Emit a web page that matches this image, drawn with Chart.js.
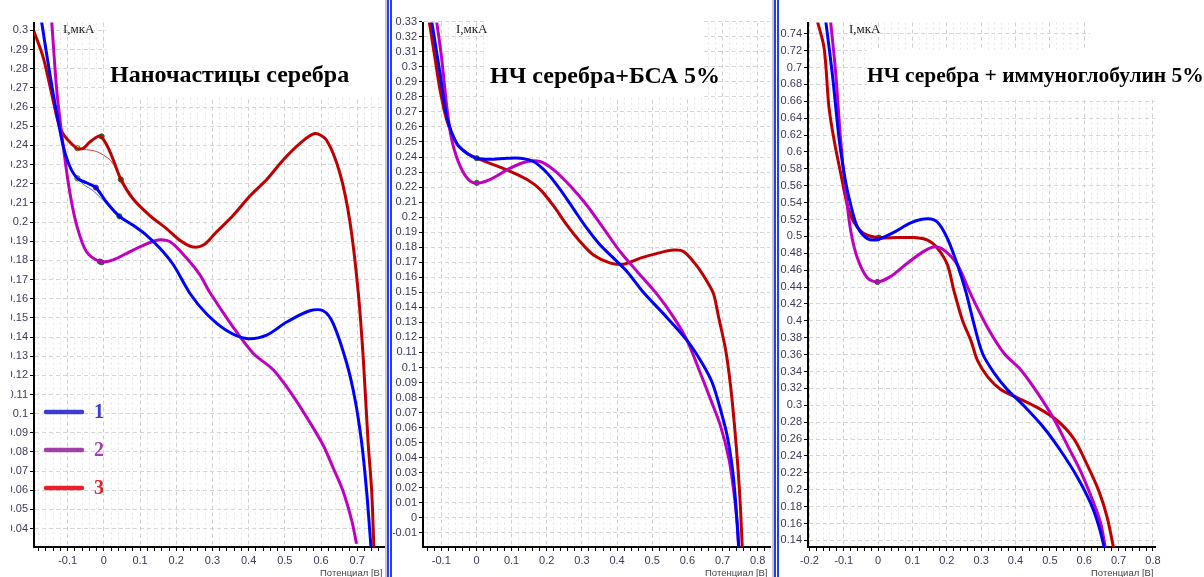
<!DOCTYPE html>
<html>
<head>
<meta charset="utf-8">
<script src="https://cdn.jsdelivr.net/npm/chart.js@4.4.1/dist/chart.umd.min.js"></script>
<style>
  body { margin: 0; background: #fff; width: 1204px; height: 577px; overflow: hidden; position: relative; }
  canvas { position: absolute; }
  .edge { position: absolute; top: 0; height: 577px; }
</style>
</head>
<body>
<canvas id="c1" width="375" height="563" style="left:11px;top:14px"></canvas>
<canvas id="c2" width="379" height="563" style="left:393px;top:14px"></canvas>
<canvas id="c3" width="426" height="563" style="left:778px;top:14px"></canvas>
<div class="edge" style="left:385px;width:2px;background:#c8c8c8"></div>
<div class="edge" style="left:387px;width:2px;background:#1f3fff"></div>
<div class="edge" style="left:390px;width:2px;background:#1f3fff"></div>
<div class="edge" style="left:772px;width:2px;background:#c8c8c8"></div>
<div class="edge" style="left:774px;width:2px;background:#1f3fff"></div>
<div class="edge" style="left:777px;width:2px;background:#1f3fff"></div>
<script>
const seriesNames = ['1', '2', '3'];
const seriesColors = ['#0000ff', '#c000c0', '#c00000'];
const legendColors = ['#3c3cd0', '#a040a8', '#e8202a'];

// Panel 1: Наночастицы серебра
const p1BlueX = [-0.172, -0.149, -0.130, -0.112, -0.094, -0.073, -0.048, -0.022, 0.008, 0.043, 0.081, 0.118, 0.155, 0.192, 0.238, 0.284, 0.339, 0.394, 0.450, 0.505, 0.569, 0.606, 0.634, 0.671, 0.694, 0.712, 0.726, 0.738];
const p1BlueY = [0.3045, 0.277, 0.2565, 0.2394, 0.229, 0.2228, 0.2205, 0.218, 0.2102, 0.203, 0.1983, 0.1931, 0.1863, 0.1777, 0.1627, 0.152, 0.1434, 0.1392, 0.141, 0.1478, 0.1537, 0.1537, 0.1469, 0.1263, 0.1074, 0.0852, 0.0595, 0.0304];
const p1MagX = [-0.144, -0.130, -0.112, -0.094, -0.075, -0.048, -0.011, 0.026, 0.081, 0.146, 0.183, 0.229, 0.265, 0.293, 0.357, 0.413, 0.468, 0.523, 0.569, 0.606, 0.634, 0.661, 0.685, 0.698];
const p1MagY = [0.3045, 0.2685, 0.2394, 0.2154, 0.1983, 0.1845, 0.1794, 0.1803, 0.1854, 0.1905, 0.1897, 0.1811, 0.1726, 0.1632, 0.1452, 0.1314, 0.1229, 0.1092, 0.0955, 0.0835, 0.0715, 0.0595, 0.0441, 0.0321];
const p1RedX = [-0.193, -0.167, -0.140, -0.1185, -0.075, -0.057, -0.038, -0.011, 0.008, 0.026, 0.047, 0.081, 0.127, 0.173, 0.210, 0.243, 0.275, 0.311, 0.357, 0.404, 0.450, 0.496, 0.542, 0.583, 0.615, 0.652, 0.680, 0.703, 0.717, 0.730, 0.740, 0.746];
const p1RedY = [0.2995, 0.2856, 0.2634, 0.248, 0.2385, 0.2385, 0.2419, 0.2449, 0.2402, 0.2325, 0.2222, 0.212, 0.2034, 0.1966, 0.1905, 0.1871, 0.188, 0.1948, 0.2034, 0.2137, 0.2222, 0.2325, 0.2411, 0.2462, 0.2428, 0.2256, 0.200, 0.163, 0.128, 0.0852, 0.0595, 0.0304];
const p1FitRedX = [-0.073, -0.057, -0.020, 0.017, 0.035];
const p1FitRedY = [0.2385, 0.238, 0.2368, 0.2325, 0.2274];
const p1FitBlueX = [-0.073, -0.057, -0.029, 0.008];
const p1FitBlueY = [0.2228, 0.2197, 0.2162, 0.2094];
const p1MarkX = [-0.073, -0.073, -0.022, -0.006, 0.047, 0.043, -0.011, -0.006];
const p1MarkY = [0.2385, 0.2228, 0.218, 0.2447, 0.2222, 0.203, 0.1794, 0.179];
const p1MarkC = ['#ffff00', '#ffff00', '#e02020', '#1a7a1a', '#1a8a1a', '#1a8a1a', '#1a8a1a', '#1a8a1a'];
const p1XLabels = [-0.1, 0, 0.1, 0.2, 0.3, 0.4, 0.5, 0.6, 0.7];
const p1YLabels = [0.04, 0.05, 0.06, 0.07, 0.08, 0.09, 0.1, 0.11, 0.12, 0.13, 0.14, 0.15, 0.16, 0.17, 0.18, 0.19, 0.2, 0.21, 0.22, 0.23, 0.24, 0.25, 0.26, 0.27, 0.28, 0.29, 0.3];

// Panel 2: НЧ серебра+БСА 5%
const p2BlueX = [-0.127, -0.103, -0.084, -0.056, -0.027, 0.001, 0.039, 0.087, 0.125, 0.162, 0.201, 0.238, 0.276, 0.315, 0.352, 0.390, 0.428, 0.476, 0.533, 0.599, 0.642, 0.671, 0.694, 0.713, 0.728, 0.737, 0.746];
const p2BlueY = [0.3298, 0.2949, 0.2665, 0.249, 0.2425, 0.2392, 0.2385, 0.2392, 0.2392, 0.237, 0.2294, 0.2185, 0.2055, 0.1923, 0.1814, 0.1727, 0.1639, 0.1497, 0.1355, 0.118, 0.1028, 0.0897, 0.0722, 0.0548, 0.0329, 0.0111, -0.0195];
const p2MagX = [-0.113, -0.099, -0.084, -0.070, -0.046, -0.018, 0.011, 0.048, 0.096, 0.144, 0.181, 0.219, 0.267, 0.315, 0.362, 0.409, 0.457, 0.514, 0.561, 0.599, 0.637, 0.666, 0.694, 0.718, 0.732, 0.742, 0.746];
const p2MagY = [0.3298, 0.3058, 0.273, 0.2512, 0.2337, 0.2239, 0.2228, 0.2261, 0.2326, 0.237, 0.237, 0.2316, 0.2207, 0.2076, 0.1923, 0.177, 0.1639, 0.1486, 0.1333, 0.118, 0.0962, 0.0788, 0.0613, 0.0394, 0.0176, -0.0042, -0.0195];
const p2RedX = [-0.134, -0.118, -0.103, -0.084, -0.056, -0.027, 0.001, 0.048, 0.096, 0.144, 0.181, 0.219, 0.258, 0.295, 0.333, 0.381, 0.419, 0.466, 0.514, 0.561, 0.590, 0.628, 0.661, 0.675, 0.689, 0.709, 0.723, 0.734, 0.744, 0.751, 0.756];
const p2RedY = [0.3298, 0.3058, 0.284, 0.2643, 0.249, 0.2425, 0.2392, 0.2349, 0.2305, 0.225, 0.2185, 0.2076, 0.1945, 0.1837, 0.1748, 0.1694, 0.1687, 0.1727, 0.1759, 0.1781, 0.177, 0.1672, 0.1552, 0.1486, 0.1333, 0.1115, 0.0875, 0.0613, 0.0329, 0.0067, -0.0195];
const p2MarkX = [0.001, 0.001];
const p2MarkY = [0.2392, 0.2228];
const p2MarkC = ['#1a8a1a', '#1a8a1a'];
const p2XLabels = [-0.1, 0, 0.1, 0.2, 0.3, 0.4, 0.5, 0.6, 0.7, 0.8];
const p2YLabels = [-0.01, 0, 0.01, 0.02, 0.03, 0.04, 0.05, 0.06, 0.07, 0.08, 0.09, 0.1, 0.11, 0.12, 0.13, 0.14, 0.15, 0.16, 0.17, 0.18, 0.19, 0.2, 0.21, 0.22, 0.23, 0.24, 0.25, 0.26, 0.27, 0.28, 0.29, 0.3, 0.31, 0.32, 0.33];

// Panel 3: НЧ серебра + иммуноглобулин 5%
const p3BlueX = [-0.152, -0.133, -0.113, -0.094, -0.079, -0.060, -0.031, -0.002, 0.047, 0.095, 0.144, 0.173, 0.202, 0.231, 0.255, 0.279, 0.304, 0.338, 0.376, 0.425, 0.483, 0.532, 0.580, 0.619, 0.643, 0.658];
const p3BlueY = [0.754, 0.6917, 0.614, 0.5634, 0.5363, 0.5111, 0.4974, 0.4963, 0.5051, 0.5161, 0.5208, 0.5168, 0.4974, 0.4663, 0.4352, 0.3964, 0.3614, 0.3381, 0.3186, 0.2992, 0.2732, 0.2459, 0.2149, 0.1838, 0.1565, 0.132];
const p3MagX = [-0.138, -0.123, -0.109, -0.094, -0.079, -0.060, -0.031, -0.002, 0.037, 0.085, 0.134, 0.163, 0.192, 0.231, 0.270, 0.318, 0.367, 0.415, 0.464, 0.512, 0.551, 0.590, 0.628, 0.648, 0.661];
const p3MagY = [0.754, 0.6917, 0.614, 0.5518, 0.5051, 0.4741, 0.4508, 0.4461, 0.4527, 0.4683, 0.4826, 0.4876, 0.4838, 0.4663, 0.4313, 0.3925, 0.3614, 0.3421, 0.3147, 0.2836, 0.2526, 0.2214, 0.1838, 0.1604, 0.132];
const p3RedX = [-0.176, -0.157, -0.143, -0.128, -0.109, -0.089, -0.070, -0.041, -0.002, 0.057, 0.105, 0.144, 0.173, 0.202, 0.221, 0.246, 0.270, 0.289, 0.318, 0.357, 0.406, 0.464, 0.522, 0.570, 0.609, 0.643, 0.667, 0.685];
const p3RedY = [0.754, 0.7229, 0.6529, 0.614, 0.5751, 0.5363, 0.5168, 0.5033, 0.4986, 0.4986, 0.4986, 0.4955, 0.4858, 0.4663, 0.4352, 0.4002, 0.3769, 0.3535, 0.3342, 0.3186, 0.3089, 0.2972, 0.2817, 0.2602, 0.2292, 0.1981, 0.167, 0.132];
const p3MarkX = [-0.002, 0.002, -0.002];
const p3MarkY = [0.4975, 0.4986, 0.4461];
const p3MarkC = ['#1a8a1a', '#1a8a1a', '#1a8a1a'];
const p3XLabels = [-0.2, -0.1, 0, 0.1, 0.2, 0.3, 0.4, 0.5, 0.6, 0.7, 0.8];
const p3YLabels = [0.14, 0.16, 0.18, 0.2, 0.22, 0.24, 0.26, 0.28, 0.3, 0.32, 0.34, 0.36, 0.38, 0.4, 0.42, 0.44, 0.46, 0.48, 0.5, 0.52, 0.54, 0.56, 0.58, 0.6, 0.62, 0.64, 0.66, 0.68, 0.7, 0.72, 0.74];

const yTitle = 'I,мкА';
const xTitle = 'Потенциал [В]';

function pts(xs, ys) {
  return xs.map((x, i) => ({ x: x, y: ys[i] }));
}

function fmt(v) {
  return String(Number(v.toFixed(3)));
}

function curve(label, xs, ys, color, width) {
  return {
    label: label, data: pts(xs, ys), borderColor: color, backgroundColor: color,
    borderWidth: width, pointRadius: 0, tension: 0.3, fill: false
  };
}

function markers(xs, ys, cols) {
  return {
    label: 'm', data: pts(xs, ys), showLine: false, pointRadius: 2.6,
    pointBackgroundColor: cols, pointBorderColor: '#224422', pointBorderWidth: 0.8
  };
}

function makePanel(p) {
  const dash = ctx => ctx.tick ? (ctx.tick.major ? [4, 3] : [2, 3]) : [];
  const majorSet = new Set(p.xLabels.map(fmt));
  const decor = {
    id: 'decor',
    beforeDatasetsDraw(chart) {
      const c = chart.ctx;
      c.save();
      c.fillStyle = '#fff';
      p.boxes.forEach(b => c.fillRect(b[0] - p.left, b[1] - p.top, b[2], b[3]));
      c.restore();
    },
    afterDraw(chart) {
      const c = chart.ctx;
      c.save();
      c.fillStyle = '#000';
      c.textBaseline = 'alphabetic';
      c.textAlign = 'left';
      c.font = 'bold ' + p.titleSize + 'px "Liberation Serif"';
      c.fillText(p.title, p.titleX - p.left, p.titleY - p.top);
      c.fillStyle = '#222';
      c.font = '13px "Liberation Serif"';
      c.fillText(yTitle, p.yTitleX - p.left, 33 - p.top);
      c.fillStyle = '#444';
      c.font = '9.5px "Liberation Sans"';
      c.textBaseline = 'top';
      c.fillText(xTitle, p.xTitleX - p.left, 569 - p.top);
      if (p.legend) {
        const items = chart.data.datasets.slice(0, 3);
        items.forEach((ds, i) => {
          const y = 412 + i * 38 - p.top;
          c.strokeStyle = legendColors[i];
          c.lineWidth = 4.5;
          c.lineCap = 'round';
          c.beginPath();
          c.moveTo(46 - p.left, y);
          c.lineTo(82 - p.left, y);
          c.stroke();
          c.fillStyle = legendColors[i];
          c.font = 'bold 20px "Liberation Serif"';
          c.textBaseline = 'middle';
          c.fillText(ds.label, 94 - p.left, y + 1);
        });
      }
      c.restore();
    }
  };
  return new Chart(document.getElementById(p.id), {
    type: 'line',
    data: { datasets: p.datasets },
    options: {
      responsive: false,
      animation: false,
      devicePixelRatio: 1,
      layout: { padding: { top: 0, right: p.padRight, bottom: 0, left: 0 }, autoPadding: false },
      plugins: { legend: { display: false }, tooltip: { enabled: false } },
      scales: {
        x: {
          type: 'linear', min: p.xMin, max: p.xMax,
          afterFit: s => { s.height = 30; },
          afterBuildTicks: s => {
            const ticks = [];
            const start = Math.ceil(p.xMin / 0.02 - 1e-6);
            for (let k = start; k * 0.02 <= p.xMax + 1e-9; k++) {
              const v = Number((k * 0.02).toFixed(3));
              ticks.push({ value: v, major: majorSet.has(fmt(v)) });
            }
            s.ticks = ticks;
          },
          ticks: {
            autoSkip: false, maxRotation: 0, padding: 3, color: '#3a3a5a',
            font: { family: 'Liberation Sans', size: 11 },
            callback: v => majorSet.has(fmt(v)) ? fmt(v) : ''
          },
          grid: {
            color: ctx => ctx.tick && ctx.tick.major ? '#cfcfcf' : '#e6e6e6',
            lineWidth: 1, tickLength: 4, tickColor: '#000', tickWidth: 1, tickBorderDash: []
          },
          border: { color: '#000', width: 2, dash: dash }
        },
        y: {
          type: 'linear', min: p.yMin, max: p.yMax,
          afterFit: s => { s.width = p.yWidth; },
          afterBuildTicks: s => { s.ticks = p.yLabels.map(v => ({ value: v, major: true })); },
          ticks: {
            autoSkip: false, padding: 2, color: '#3a3a5a',
            font: { family: 'Liberation Sans', size: 11 },
            callback: v => fmt(v)
          },
          grid: {
            color: '#d6d6d6', lineWidth: 1, tickLength: 4, tickColor: '#000', tickWidth: 1, tickBorderDash: []
          },
          border: { color: '#000', width: 2, dash: dash }
        }
      }
    },
    plugins: [decor]
  });
}

makePanel({
  id: 'c1', left: 11, top: 14, yWidth: 23, padRight: 2,
  xMin: -0.193, xMax: 0.774, yMin: 0.0304, yMax: 0.3041,
  xLabels: p1XLabels, yLabels: p1YLabels,
  title: 'Наночастицы серебра', titleSize: 24, titleX: 110, titleY: 82, yTitleX: 63, xTitleX: 320,
  boxes: [[106, 14, 278, 83]], legend: true,
  datasets: [
    curve(seriesNames[0], p1BlueX, p1BlueY, seriesColors[0], 3),
    curve(seriesNames[1], p1MagX, p1MagY, seriesColors[1], 3),
    curve(seriesNames[2], p1RedX, p1RedY, seriesColors[2], 3),
    curve('fit3', p1FitRedX, p1FitRedY, '#d04040', 1),
    curve('fit1', p1FitBlueX, p1FitBlueY, '#6060ff', 1),
    markers(p1MarkX, p1MarkY, p1MarkC)
  ]
});

makePanel({
  id: 'c2', left: 393, top: 14, yWidth: 30, padRight: 2,
  xMin: -0.152, xMax: 0.835, yMin: -0.0194, yMax: 0.3294,
  xLabels: p2XLabels, yLabels: p2YLabels,
  title: 'НЧ серебра+БСА 5%', titleSize: 24, titleX: 490, titleY: 83, yTitleX: 456, xTitleX: 705,
  boxes: [[487, 14, 216, 83]], legend: false,
  datasets: [
    curve(seriesNames[0], p2BlueX, p2BlueY, seriesColors[0], 3),
    curve(seriesNames[1], p2MagX, p2MagY, seriesColors[1], 3),
    curve(seriesNames[2], p2RedX, p2RedY, seriesColors[2], 3),
    markers(p2MarkX, p2MarkY, p2MarkC)
  ]
});

makePanel({
  id: 'c3', left: 778, top: 14, yWidth: 30, padRight: 49,
  xMin: -0.204, xMax: 0.806, yMin: 0.1322, yMax: 0.7532,
  xLabels: p3XLabels, yLabels: p3YLabels,
  title: 'НЧ серебра + иммуноглобулин 5%', titleSize: 21.5, titleX: 867, titleY: 82, yTitleX: 849, xTitleX: 1091,
  boxes: [[867, 50, 288, 50], [1090, 14, 65, 40]], legend: false,
  datasets: [
    curve(seriesNames[0], p3BlueX, p3BlueY, seriesColors[0], 3),
    curve(seriesNames[1], p3MagX, p3MagY, seriesColors[1], 3),
    curve(seriesNames[2], p3RedX, p3RedY, seriesColors[2], 3),
    markers(p3MarkX, p3MarkY, p3MarkC)
  ]
});
</script>
</body>
</html>
